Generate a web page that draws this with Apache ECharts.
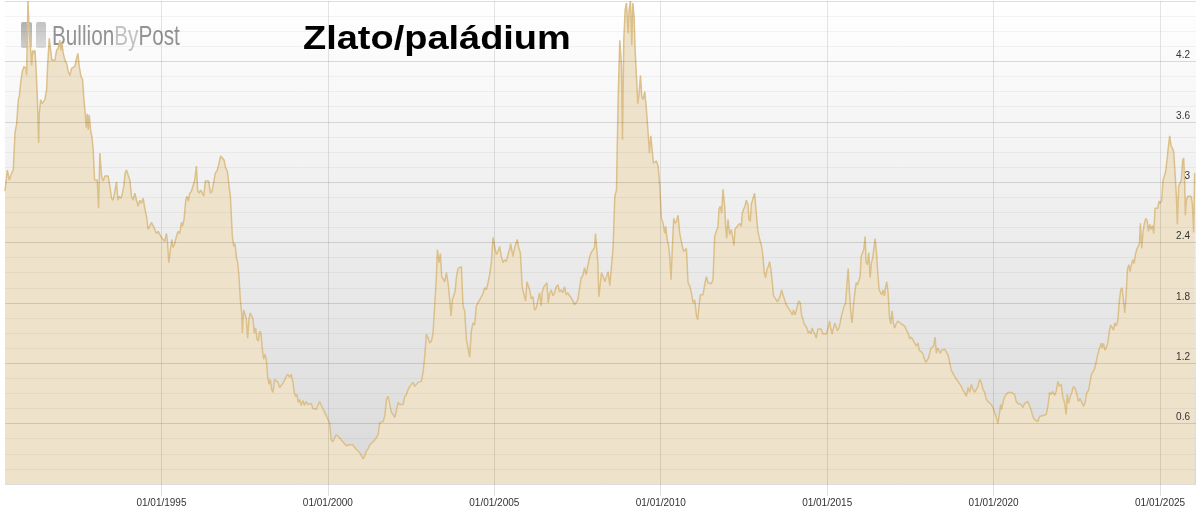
<!DOCTYPE html>
<html><head><meta charset="utf-8">
<script src="https://cdn.jsdelivr.net/npm/echarts@6/dist/echarts.min.js"></script>
<style>html,body{margin:0;padding:0;background:#fff}#c{width:1199px;height:512px}</style>
</head><body><div id="c"></div>
<script>
const titleText = 'Zlato/paládium';
const logoParts = ['Bullion', 'By', 'Post'];
const xTickYears = [1995, 2000, 2005, 2010, 2015, 2020, 2025];
const yTicks = [0.6, 1.2, 1.8, 2.4, 3, 3.6, 4.2];

// [decimal year, gold/palladium ratio]
const ratio1990to1999 = [[1990.30,2.91],[1990.37,3.12],[1990.43,3.02],[1990.50,3.09],[1990.55,3.12],[1990.60,3.49],[1990.65,3.58],[1990.70,3.82],[1990.73,3.85],[1990.77,3.98],[1990.82,4.10],[1990.87,4.15],[1990.93,4.13],[1990.95,4.06],[1990.99,4.80],[1991.03,4.48],[1991.07,4.31],[1991.10,4.16],[1991.13,4.31],[1991.15,4.28],[1991.20,4.31],[1991.23,4.15],[1991.27,3.85],[1991.31,3.39],[1991.33,3.68],[1991.37,3.82],[1991.41,3.78],[1991.45,3.77],[1991.50,3.82],[1991.55,3.92],[1991.58,4.15],[1991.63,4.43],[1991.67,4.31],[1991.71,4.21],[1991.75,4.20],[1991.80,4.21],[1991.85,4.31],[1991.90,4.33],[1991.95,4.41],[1991.98,4.31],[1992.01,4.38],[1992.05,4.28],[1992.10,4.21],[1992.15,4.18],[1992.20,4.10],[1992.25,4.06],[1992.30,4.13],[1992.35,4.12],[1992.40,4.15],[1992.45,4.23],[1992.49,4.28],[1992.53,4.15],[1992.58,4.05],[1992.63,4.02],[1992.67,3.82],[1992.71,3.68],[1992.74,3.54],[1992.77,3.68],[1992.80,3.52],[1992.83,3.67],[1992.87,3.52],[1992.91,3.45],[1992.95,3.32],[1992.99,3.02],[1993.03,3.01],[1993.07,3.02],[1993.11,2.74],[1993.15,3.29],[1993.20,3.06],[1993.25,3.01],[1993.30,3.06],[1993.35,3.07],[1993.40,3.06],[1993.45,2.96],[1993.50,2.84],[1993.55,2.82],[1993.60,2.81],[1993.65,3.00],[1993.69,2.82],[1993.73,2.86],[1993.77,2.84],[1993.81,2.86],[1993.87,2.96],[1993.91,3.09],[1993.95,3.12],[1994.00,3.11],[1994.05,3.02],[1994.10,2.86],[1994.15,2.82],[1994.20,2.89],[1994.25,2.82],[1994.30,2.76],[1994.35,2.82],[1994.40,2.79],[1994.45,2.84],[1994.50,2.74],[1994.55,2.66],[1994.60,2.53],[1994.65,2.56],[1994.70,2.60],[1994.75,2.61],[1994.80,2.53],[1994.85,2.49],[1994.90,2.51],[1994.95,2.48],[1995.00,2.45],[1995.05,2.43],[1995.10,2.41],[1995.15,2.49],[1995.18,2.41],[1995.22,2.20],[1995.27,2.33],[1995.31,2.43],[1995.35,2.35],[1995.40,2.39],[1995.45,2.46],[1995.50,2.51],[1995.55,2.49],[1995.60,2.60],[1995.63,2.56],[1995.68,2.63],[1995.73,2.82],[1995.77,2.86],[1995.81,2.81],[1995.85,2.89],[1995.90,2.91],[1995.95,2.92],[1996.00,3.02],[1996.05,3.16],[1996.09,2.91],[1996.13,2.89],[1996.18,2.92],[1996.23,2.89],[1996.27,2.86],[1996.32,3.01],[1996.37,3.00],[1996.42,3.01],[1996.47,2.89],[1996.52,2.91],[1996.57,3.00],[1996.62,3.09],[1996.67,3.11],[1996.73,3.19],[1996.78,3.26],[1996.83,3.26],[1996.88,3.22],[1996.93,3.14],[1996.98,3.11],[1997.03,2.96],[1997.07,2.86],[1997.10,2.66],[1997.13,2.46],[1997.17,2.36],[1997.21,2.39],[1997.25,2.26],[1997.29,2.20],[1997.33,2.06],[1997.37,1.83],[1997.41,1.70],[1997.43,1.50],[1997.47,1.73],[1997.51,1.73],[1997.55,1.64],[1997.59,1.45],[1997.63,1.64],[1997.67,1.70],[1997.71,1.70],[1997.75,1.64],[1997.79,1.50],[1997.83,1.55],[1997.87,1.44],[1997.91,1.42],[1997.95,1.52],[1997.99,1.50],[1998.03,1.34],[1998.07,1.24],[1998.11,1.29],[1998.15,1.24],[1998.19,1.07],[1998.23,0.99],[1998.27,1.04],[1998.31,0.94],[1998.35,0.91],[1998.40,1.04],[1998.45,1.04],[1998.50,1.01],[1998.55,0.96],[1998.60,0.97],[1998.65,1.00],[1998.70,1.01],[1998.75,1.07],[1998.80,1.09],[1998.85,1.06],[1998.90,1.09],[1998.95,1.01],[1998.99,0.91],[1999.03,0.87],[1999.07,0.89],[1999.11,0.81]];

const ratio1999to2008 = [[1999.15,0.84],[1999.20,0.78],[1999.25,0.83],[1999.30,0.78],[1999.35,0.82],[1999.40,0.79],[1999.45,0.78],[1999.50,0.80],[1999.55,0.75],[1999.60,0.76],[1999.65,0.74],[1999.70,0.73],[1999.75,0.82],[1999.80,0.78],[1999.85,0.75],[1999.90,0.75],[1999.95,0.68],[2000.00,0.64],[2000.05,0.61],[2000.10,0.44],[2000.15,0.42],[2000.20,0.43],[2000.25,0.49],[2000.30,0.48],[2000.35,0.46],[2000.40,0.44],[2000.45,0.43],[2000.50,0.40],[2000.55,0.38],[2000.60,0.37],[2000.65,0.39],[2000.70,0.38],[2000.75,0.39],[2000.81,0.36],[2000.86,0.34],[2000.91,0.33],[2000.96,0.31],[2001.01,0.28],[2001.06,0.25],[2001.11,0.28],[2001.16,0.33],[2001.21,0.35],[2001.26,0.39],[2001.31,0.40],[2001.36,0.42],[2001.41,0.44],[2001.46,0.46],[2001.51,0.49],[2001.56,0.61],[2001.61,0.60],[2001.66,0.62],[2001.71,0.68],[2001.76,0.84],[2001.81,0.87],[2001.86,0.86],[2001.91,0.71],[2001.96,0.69],[2002.01,0.66],[2002.06,0.73],[2002.11,0.81],[2002.16,0.79],[2002.21,0.80],[2002.26,0.79],[2002.31,0.87],[2002.36,0.89],[2002.41,0.94],[2002.46,0.97],[2002.51,0.99],[2002.56,1.01],[2002.61,0.97],[2002.66,0.99],[2002.71,1.01],[2002.76,1.02],[2002.81,1.02],[2002.86,1.11],[2002.91,1.27],[2002.96,1.49],[2003.01,1.45],[2003.06,1.40],[2003.11,1.42],[2003.16,1.50],[2003.21,1.50],[2003.26,2.06],[2003.29,2.33],[2003.34,2.20],[2003.38,2.29],[2003.42,2.06],[2003.46,2.06],[2003.51,2.01],[2003.56,2.10],[2003.61,2.00],[2003.66,1.83],[2003.70,1.67],[2003.74,1.83],[2003.78,1.83],[2003.82,1.91],[2003.86,2.05],[2003.91,2.14],[2003.96,2.15],[2004.01,2.16],[2004.06,1.77],[2004.11,1.72],[2004.16,1.44],[2004.21,1.45],[2004.26,1.26],[2004.31,1.52],[2004.36,1.60],[2004.41,1.58],[2004.46,1.77],[2004.51,1.80],[2004.56,1.83],[2004.61,1.83],[2004.66,1.89],[2004.71,1.95],[2004.76,1.93],[2004.81,2.00],[2004.86,2.08],[2004.91,2.20],[2004.96,2.45],[2005.01,2.36],[2005.06,2.28],[2005.11,2.31],[2005.16,2.36],[2005.21,2.26],[2005.26,2.20],[2005.31,2.23],[2005.36,2.21],[2005.41,2.28],[2005.46,2.33],[2005.49,2.39],[2005.52,2.33],[2005.56,2.26],[2005.61,2.35],[2005.66,2.40],[2005.69,2.43],[2005.73,2.35],[2005.78,2.30],[2005.84,1.95],[2005.89,1.94],[2005.94,1.82],[2005.98,2.01],[2006.02,2.01],[2006.06,1.93],[2006.11,1.84],[2006.16,1.86],[2006.21,1.73],[2006.26,1.75],[2006.31,1.75],[2006.36,1.90],[2006.41,1.77],[2006.44,1.91],[2006.49,1.96],[2006.54,1.98],[2006.58,2.00],[2006.62,1.80],[2006.66,1.89],[2006.71,1.93],[2006.76,1.87],[2006.81,1.90],[2006.86,1.96],[2006.91,1.98],[2006.96,1.91],[2007.01,1.93],[2007.06,1.90],[2007.11,1.96],[2007.16,1.88],[2007.21,1.90],[2007.26,1.87],[2007.31,1.85],[2007.36,1.82],[2007.41,1.78],[2007.46,1.79],[2007.51,1.83],[2007.56,1.84],[2007.61,2.05],[2007.66,2.07],[2007.71,2.15],[2007.76,2.08],[2007.81,2.17],[2007.86,2.25],[2007.91,2.30],[2007.96,2.31],[2008.01,2.35],[2008.04,2.49],[2008.08,2.33],[2008.11,2.20],[2008.14,1.86]];

const ratio2008to2017 = [[2008.17,1.87],[2008.22,2.10],[2008.27,2.06],[2008.32,2.01],[2008.37,2.06],[2008.42,2.11],[2008.47,1.97],[2008.52,2.16],[2008.57,2.36],[2008.62,2.86],[2008.67,2.92],[2008.72,3.82],[2008.77,4.41],[2008.82,4.15],[2008.85,3.42],[2008.89,4.41],[2008.93,4.71],[2008.97,4.78],[2009.02,4.48],[2009.05,4.71],[2009.09,4.80],[2009.13,4.36],[2009.16,4.78],[2009.20,4.64],[2009.23,4.31],[2009.27,4.05],[2009.31,3.78],[2009.35,3.88],[2009.39,4.06],[2009.43,3.85],[2009.47,3.82],[2009.52,3.90],[2009.57,3.72],[2009.62,3.49],[2009.66,3.29],[2009.70,3.46],[2009.74,3.45],[2009.78,3.19],[2009.82,3.19],[2009.87,3.21],[2009.92,3.16],[2009.97,2.96],[2010.02,2.64],[2010.07,2.59],[2010.12,2.49],[2010.15,2.56],[2010.19,2.43],[2010.23,2.38],[2010.27,2.26],[2010.31,2.03],[2010.35,2.36],[2010.39,2.64],[2010.43,2.59],[2010.47,2.61],[2010.52,2.67],[2010.57,2.49],[2010.61,2.49],[2010.65,2.36],[2010.69,2.31],[2010.73,2.31],[2010.77,2.34],[2010.82,2.00],[2010.87,1.97],[2010.92,1.90],[2010.97,1.80],[2011.02,1.83],[2011.07,1.68],[2011.11,1.63],[2011.15,1.77],[2011.19,1.88],[2011.23,1.87],[2011.27,1.88],[2011.32,1.98],[2011.37,2.06],[2011.42,2.00],[2011.47,2.00],[2011.52,1.99],[2011.57,2.03],[2011.62,2.46],[2011.67,2.51],[2011.72,2.56],[2011.75,2.73],[2011.79,2.76],[2011.83,2.69],[2011.87,2.93],[2011.92,2.76],[2011.95,2.56],[2011.98,2.44],[2012.02,2.63],[2012.07,2.48],[2012.12,2.53],[2012.17,2.53],[2012.20,2.37],[2012.23,2.53],[2012.27,2.55],[2012.32,2.56],[2012.37,2.59],[2012.42,2.56],[2012.45,2.69],[2012.49,2.73],[2012.53,2.76],[2012.57,2.82],[2012.62,2.78],[2012.65,2.63],[2012.69,2.61],[2012.72,2.78],[2012.77,2.78],[2012.82,2.89],[2012.87,2.69],[2012.91,2.53],[2012.95,2.46],[2012.99,2.45],[2013.03,2.36],[2013.07,2.26],[2013.11,2.10],[2013.15,2.05],[2013.19,2.13],[2013.23,2.16],[2013.27,2.21],[2013.31,2.13],[2013.35,2.00],[2013.39,1.87],[2013.43,1.85],[2013.47,1.83],[2013.51,1.81],[2013.55,1.82],[2013.59,1.87],[2013.63,1.93],[2013.67,1.88],[2013.71,1.87],[2013.75,1.80],[2013.79,1.77],[2013.83,1.77],[2013.87,1.73],[2013.91,1.72],[2013.95,1.68],[2013.99,1.73],[2014.03,1.68],[2014.07,1.72],[2014.11,1.78],[2014.15,1.82],[2014.19,1.80],[2014.23,1.68],[2014.27,1.64],[2014.31,1.59],[2014.35,1.60],[2014.39,1.55],[2014.43,1.50],[2014.47,1.52],[2014.51,1.49],[2014.55,1.55],[2014.59,1.51],[2014.63,1.49],[2014.67,1.45],[2014.72,1.54],[2014.77,1.55],[2014.82,1.54],[2014.87,1.49],[2014.92,1.50],[2014.97,1.49],[2015.02,1.54],[2015.07,1.62],[2015.11,1.54],[2015.15,1.49],[2015.19,1.55],[2015.23,1.60],[2015.27,1.59],[2015.31,1.52],[2015.35,1.55],[2015.39,1.60],[2015.43,1.67],[2015.47,1.72],[2015.51,1.77],[2015.55,1.79],[2015.59,1.80],[2015.63,2.14],[2015.67,1.90],[2015.71,1.70],[2015.75,1.60],[2015.79,1.78],[2015.83,1.90],[2015.87,2.00],[2015.91,1.98],[2015.95,1.97],[2015.99,2.06],[2016.02,2.26],[2016.06,2.26],[2016.10,2.33],[2016.14,2.46],[2016.17,2.20],[2016.21,2.18],[2016.25,2.30],[2016.29,2.05],[2016.33,2.20],[2016.37,2.25],[2016.41,2.36],[2016.44,2.44],[2016.48,2.30],[2016.52,2.10],[2016.56,1.93],[2016.60,1.92],[2016.64,1.88],[2016.68,1.93],[2016.72,1.87],[2016.75,1.95],[2016.79,2.01],[2016.83,1.90],[2016.87,1.67],[2016.91,1.59],[2016.95,1.72],[2016.99,1.59],[2017.03,1.55],[2017.07,1.59],[2017.12,1.62]];

const ratio2017to2026 = [[2017.18,1.62],[2017.23,1.59],[2017.28,1.60],[2017.33,1.57],[2017.38,1.53],[2017.43,1.50],[2017.48,1.44],[2017.53,1.46],[2017.58,1.45],[2017.63,1.40],[2017.68,1.37],[2017.73,1.40],[2017.76,1.33],[2017.80,1.32],[2017.84,1.31],[2017.88,1.29],[2017.92,1.24],[2017.96,1.21],[2018.00,1.21],[2018.04,1.25],[2018.08,1.30],[2018.12,1.35],[2018.16,1.34],[2018.20,1.37],[2018.24,1.46],[2018.28,1.30],[2018.32,1.35],[2018.36,1.35],[2018.40,1.30],[2018.44,1.33],[2018.48,1.33],[2018.53,1.34],[2018.58,1.33],[2018.63,1.28],[2018.68,1.21],[2018.73,1.13],[2018.78,1.13],[2018.83,1.07],[2018.88,1.04],[2018.93,1.02],[2018.98,1.01],[2019.03,0.97],[2019.08,0.93],[2019.13,0.91],[2019.18,0.87],[2019.23,0.96],[2019.28,0.91],[2019.33,0.99],[2019.38,0.94],[2019.43,0.91],[2019.48,0.94],[2019.53,0.97],[2019.58,1.04],[2019.63,1.01],[2019.68,0.94],[2019.73,0.91],[2019.78,0.84],[2019.83,0.82],[2019.88,0.81],[2019.93,0.79],[2019.98,0.76],[2020.03,0.71],[2020.08,0.66],[2020.13,0.60],[2020.18,0.71],[2020.21,0.79],[2020.24,0.74],[2020.28,0.81],[2020.33,0.87],[2020.38,0.87],[2020.43,0.91],[2020.48,0.92],[2020.53,0.91],[2020.58,0.92],[2020.63,0.89],[2020.68,0.82],[2020.73,0.80],[2020.78,0.81],[2020.83,0.79],[2020.88,0.76],[2020.93,0.80],[2020.98,0.79],[2021.03,0.82],[2021.08,0.81],[2021.13,0.73],[2021.18,0.67],[2021.23,0.64],[2021.28,0.64],[2021.33,0.62],[2021.38,0.67],[2021.43,0.68],[2021.48,0.68],[2021.53,0.67],[2021.58,0.69],[2021.63,0.77],[2021.68,0.91],[2021.73,0.89],[2021.78,0.92],[2021.83,0.88],[2021.88,0.92],[2021.93,1.02],[2021.98,0.97],[2022.03,0.99],[2022.08,0.86],[2022.13,0.81],[2022.18,0.69],[2022.21,0.89],[2022.25,0.80],[2022.30,0.87],[2022.35,0.91],[2022.40,0.97],[2022.45,0.95],[2022.50,0.89],[2022.55,0.82],[2022.60,0.85],[2022.65,0.84],[2022.70,0.77],[2022.75,0.81],[2022.80,0.91],[2022.85,0.93],[2022.90,0.92],[2022.94,1.09],[2022.98,1.10],[2023.03,1.14],[2023.08,1.21],[2023.13,1.29],[2023.18,1.35],[2023.23,1.40],[2023.26,1.35],[2023.30,1.40],[2023.34,1.33],[2023.38,1.35],[2023.43,1.40],[2023.48,1.53],[2023.52,1.58],[2023.56,1.57],[2023.60,1.53],[2023.64,1.60],[2023.68,1.57],[2023.73,1.62],[2023.78,1.83],[2023.82,1.93],[2023.86,1.95],[2023.90,1.96],[2023.94,1.70],[2023.98,1.87],[2024.02,2.13],[2024.06,2.18],[2024.10,2.11],[2024.14,2.18],[2024.18,2.23],[2024.22,2.19],[2024.26,2.28],[2024.30,2.33],[2024.34,2.34],[2024.38,2.39],[2024.41,2.59],[2024.45,2.34],[2024.49,2.51],[2024.53,2.59],[2024.57,2.64],[2024.61,2.62],[2024.65,2.51],[2024.69,2.58],[2024.73,2.53],[2024.77,2.57],[2024.81,2.49],[2024.85,2.74],[2024.89,2.75],[2024.93,2.74],[2024.97,2.81],[2025.01,2.79],[2025.05,2.82],[2025.09,3.02],[2025.13,3.06],[2025.17,3.11],[2025.21,3.22],[2025.25,3.35],[2025.29,3.46],[2025.33,3.36],[2025.37,3.34],[2025.41,3.30],[2025.45,3.09],[2025.49,2.86],[2025.52,2.58],[2025.56,2.96],[2025.60,2.99],[2025.64,3.02],[2025.68,3.22],[2025.71,3.24],[2025.74,2.99],[2025.76,2.67],[2025.79,2.82],[2025.83,2.86],[2025.88,2.87],[2025.93,2.86],[2025.97,2.79],[2026.01,2.50],[2026.04,3.09]];

const seriesData = [].concat(ratio1990to1999, ratio1999to2008, ratio2008to2017, ratio2017to2026);

const chart = echarts.init(document.getElementById('c'), null, {renderer: 'canvas'});
const FONT = '"Liberation Sans", Arial, sans-serif';

chart.setOption({
  animation: false,
  backgroundColor: '#ffffff',
  textStyle: {fontFamily: FONT},
  grid: {
    left: 5, right: 3, top: 1, bottom: 28,
    outerBoundsMode: 'none',
    show: true, borderWidth: 0,
    backgroundColor: new echarts.graphic.LinearGradient(0, 0, 0, 1, [
      {offset: 0, color: '#ffffff'},
      {offset: 1, color: '#d9d9d9'}
    ])
  },
  xAxis: {
    type: 'value', min: 1990.3, max: 2026.08, z: 5,
    axisLine: {show: false},
    axisTick: {show: true, customValues: xTickYears, length: 12, lineStyle: {color: 'rgba(0,0,0,0.12)'}},
    axisLabel: {customValues: xTickYears, formatter: v => '01/01/' + v, color: '#333', fontSize: 10, margin: 14, fontFamily: FONT},
    splitLine: {show: true, lineStyle: {color: 'rgba(0,0,0,0.1)', width: 1}}
  },
  yAxis: {
    type: 'value', min: 0, max: 4.8, interval: 0.6, position: 'right', z: 5,
    axisLine: {show: false}, axisTick: {show: false},
    axisLabel: {inside: true, margin: 6, color: '#333', fontSize: 10, verticalAlign: 'bottom', padding: [0, 0, 1, 0],
      fontFamily: FONT,
      formatter: v => (v > 0.01 && v < 4.79) ? String(v) : ''},
    splitLine: {show: true, lineStyle: {color: 'rgba(0,0,0,0.13)', width: 1}},
    minorTick: {show: false, splitNumber: 4},
    minorSplitLine: {show: true, lineStyle: {color: 'rgba(0,0,0,0.045)', width: 1}}
  },
  series: [{
    type: 'line', data: seriesData, showSymbol: false, symbol: 'none', sampling: 'none',
    lineStyle: {color: '#dcc08a', width: 1.5},
    areaStyle: {color: '#eee2ca', opacity: 1},
    z: 2
  }],
  graphic: [
    {type: 'group', x: 21, y: 22, z: 100, children: [
      {type: 'rect', shape: {x: 0, y: 0, width: 11, height: 26, r: 2},
        style: {fill: new echarts.graphic.LinearGradient(0, 0, 0, 1, [{offset: 0, color: 'rgba(150,150,150,0.75)'}, {offset: 1, color: 'rgba(190,190,190,0.75)'}])}},
      {type: 'rect', shape: {x: 15, y: 0, width: 10, height: 26, r: 2},
        style: {fill: new echarts.graphic.LinearGradient(0, 0, 0, 1, [{offset: 0, color: 'rgba(170,170,170,0.7)'}, {offset: 1, color: 'rgba(205,205,205,0.7)'}])}}
    ]},
    {type: 'group', x: 52, y: 37, scaleX: 0.74, z: 100, children: [
      {type: 'text', x: 0, y: 0, style: {
        text: '{a|' + logoParts[0] + '}{b|' + logoParts[1] + '}{a|' + logoParts[2] + '}',
        rich: {
          a: {fontFamily: FONT, fontSize: 28, fill: 'rgba(120,120,120,0.8)'},
          b: {fontFamily: FONT, fontSize: 28, fill: 'rgba(175,175,175,0.75)'}
        },
        verticalAlign: 'middle', align: 'left'
      }}
    ]},
    {type: 'group', x: 303, y: 39.5, scaleX: 1.15, z: 100, children: [
      {type: 'text', x: 0, y: 0, style: {
        text: titleText, fontFamily: FONT, fontWeight: 'bold', fontSize: 33, fill: '#000',
        verticalAlign: 'middle', align: 'left'
      }}
    ]}
  ]
});
</script>
</body></html>
